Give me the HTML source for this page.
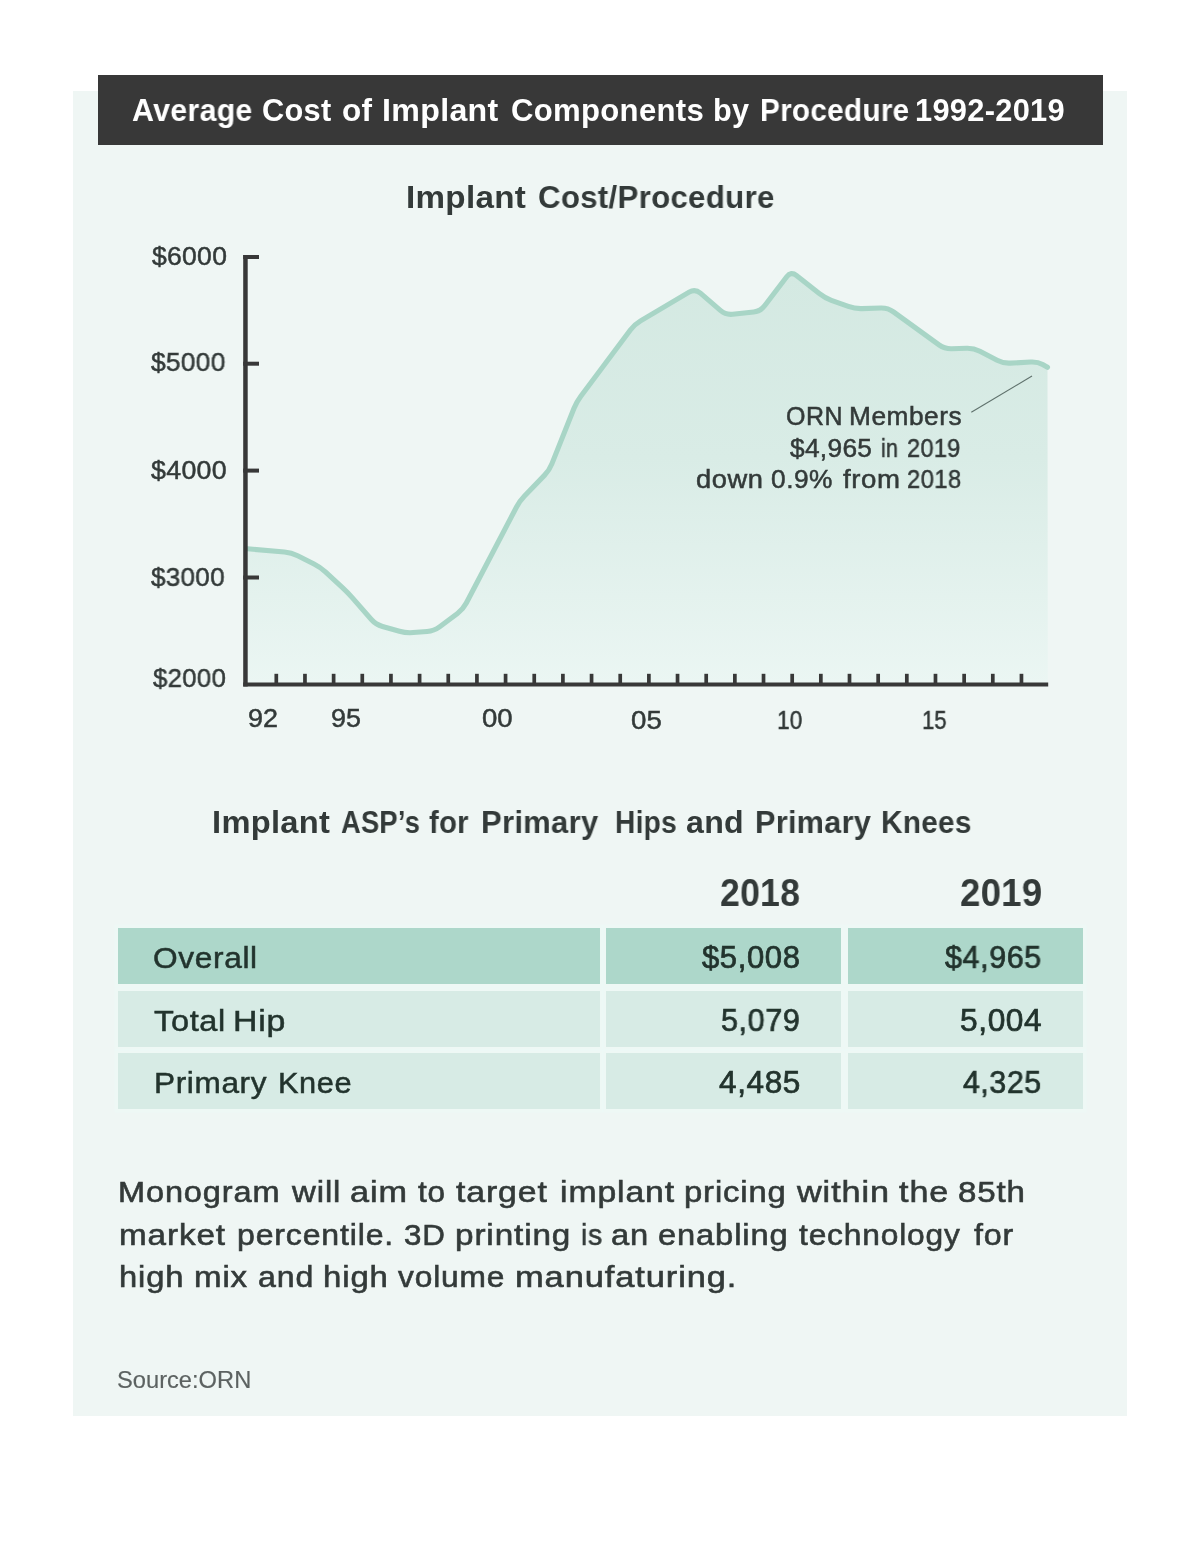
<!DOCTYPE html>
<html lang="en"><head><meta charset="utf-8"><title>Average Cost of Implant Components by Procedure 1992-2019</title>
<style>
html,body{margin:0;padding:0;background:#fff;}
body{width:1200px;height:1553px;position:relative;overflow:hidden;font-family:"Liberation Sans",sans-serif;}
.bg{position:absolute;}
.t{position:absolute;white-space:nowrap;line-height:1;transform-origin:0 0;display:block;will-change:transform;}
.panel{left:73.3px;top:91.4px;width:1053.7px;height:1324.2px;background:#eff6f4;}
.bar{left:98px;top:74.8px;width:1004.8px;height:70.5px;background:#383838;}
.row{position:absolute;height:56px;box-shadow:0 0 0 3.5px rgba(236,250,245,0.55);}
.rd{background:#add7ca;} .rl{background:#d7ebe5;}
</style></head><body>
<div class="bg panel"></div>
<div class="bg bar"></div>
<svg class="bg" style="left:0;top:0" width="1200" height="800" viewBox="0 0 1200 800">
<defs><linearGradient id="g" x1="0" y1="273" x2="0" y2="684" gradientUnits="userSpaceOnUse"><stop offset="0" stop-color="#d4e9e2"/><stop offset="0.45" stop-color="#d9ece6"/><stop offset="1" stop-color="#ebf6f3"/></linearGradient></defs>
<path d="M247.50,548.75 L284.45,552.03 Q291.42,552.65 297.68,555.79 L314.01,563.97 Q320.27,567.10 325.41,571.85 L342.47,587.64 Q347.61,592.39 352.22,597.66 L371.14,619.28 Q375.75,624.55 382.49,626.45 L399.45,631.24 Q406.19,633.15 413.16,632.58 L427.11,631.45 Q434.09,630.88 439.70,626.70 L457.47,613.44 Q463.08,609.25 466.32,603.05 L516.40,507.20 Q519.64,500.99 524.50,495.96 L544.40,475.36 Q549.26,470.33 551.86,463.83 L574.02,408.28 Q576.62,401.78 580.82,396.18 L630.34,330.08 Q634.54,324.47 640.56,320.91 L689.09,292.15 Q695.12,288.58 700.41,293.16 L720.37,310.41 Q725.66,314.99 732.62,314.22 L753.64,311.91 Q760.60,311.14 764.83,305.56 L786.73,276.73 Q790.96,271.16 796.45,275.50 L819.29,293.58 Q824.78,297.92 831.36,300.30 L848.31,306.43 Q854.90,308.81 861.89,308.60 L880.81,308.01 Q887.80,307.79 893.48,311.89 L939.02,344.84 Q944.70,348.94 951.69,348.74 L966.67,348.31 Q973.66,348.11 979.88,351.34 L997.12,360.29 Q1003.34,363.51 1010.33,363.13 L1030.73,362.03 Q1037.72,361.66 1042.61,364.45 L1047.50,367.25 L1047.8,684 L247.5,684 Z" fill="url(#g)"/>
<path d="M247.50,548.75 L284.45,552.03 Q291.42,552.65 297.68,555.79 L314.01,563.97 Q320.27,567.10 325.41,571.85 L342.47,587.64 Q347.61,592.39 352.22,597.66 L371.14,619.28 Q375.75,624.55 382.49,626.45 L399.45,631.24 Q406.19,633.15 413.16,632.58 L427.11,631.45 Q434.09,630.88 439.70,626.70 L457.47,613.44 Q463.08,609.25 466.32,603.05 L516.40,507.20 Q519.64,500.99 524.50,495.96 L544.40,475.36 Q549.26,470.33 551.86,463.83 L574.02,408.28 Q576.62,401.78 580.82,396.18 L630.34,330.08 Q634.54,324.47 640.56,320.91 L689.09,292.15 Q695.12,288.58 700.41,293.16 L720.37,310.41 Q725.66,314.99 732.62,314.22 L753.64,311.91 Q760.60,311.14 764.83,305.56 L786.73,276.73 Q790.96,271.16 796.45,275.50 L819.29,293.58 Q824.78,297.92 831.36,300.30 L848.31,306.43 Q854.90,308.81 861.89,308.60 L880.81,308.01 Q887.80,307.79 893.48,311.89 L939.02,344.84 Q944.70,348.94 951.69,348.74 L966.67,348.31 Q973.66,348.11 979.88,351.34 L997.12,360.29 Q1003.34,363.51 1010.33,363.13 L1030.73,362.03 Q1037.72,361.66 1042.61,364.45 L1047.50,367.25" fill="none" stroke="#a8d5c6" stroke-width="5.1" stroke-linejoin="round" stroke-linecap="round"/>
<line x1="971.3" y1="412.3" x2="1032" y2="376" stroke="#5f716c" stroke-width="1.1"/>
<rect x="243.2" y="255" width="4.5" height="431.5" fill="#383838"/>
<rect x="243.2" y="682.5" width="805" height="4" fill="#383838"/>
<rect x="243.2" y="255" width="15.8" height="4" fill="#383838"/>
<rect x="243.2" y="361.7" width="15.8" height="4" fill="#383838"/>
<rect x="243.2" y="468.6" width="15.8" height="4" fill="#383838"/>
<rect x="243.2" y="575.5" width="15.8" height="4" fill="#383838"/>
<rect x="274.45" y="673.8" width="3.7" height="10" fill="#383838"/>
<rect x="303.11" y="673.8" width="3.7" height="10" fill="#383838"/>
<rect x="331.77" y="673.8" width="3.7" height="10" fill="#383838"/>
<rect x="360.43" y="673.8" width="3.7" height="10" fill="#383838"/>
<rect x="389.09" y="673.8" width="3.7" height="10" fill="#383838"/>
<rect x="417.75" y="673.8" width="3.7" height="10" fill="#383838"/>
<rect x="446.41" y="673.8" width="3.7" height="10" fill="#383838"/>
<rect x="475.07" y="673.8" width="3.7" height="10" fill="#383838"/>
<rect x="503.73" y="673.8" width="3.7" height="10" fill="#383838"/>
<rect x="532.39" y="673.8" width="3.7" height="10" fill="#383838"/>
<rect x="561.05" y="673.8" width="3.7" height="10" fill="#383838"/>
<rect x="589.71" y="673.8" width="3.7" height="10" fill="#383838"/>
<rect x="618.37" y="673.8" width="3.7" height="10" fill="#383838"/>
<rect x="647.03" y="673.8" width="3.7" height="10" fill="#383838"/>
<rect x="675.69" y="673.8" width="3.7" height="10" fill="#383838"/>
<rect x="704.35" y="673.8" width="3.7" height="10" fill="#383838"/>
<rect x="733.01" y="673.8" width="3.7" height="10" fill="#383838"/>
<rect x="761.67" y="673.8" width="3.7" height="10" fill="#383838"/>
<rect x="790.33" y="673.8" width="3.7" height="10" fill="#383838"/>
<rect x="818.99" y="673.8" width="3.7" height="10" fill="#383838"/>
<rect x="847.65" y="673.8" width="3.7" height="10" fill="#383838"/>
<rect x="876.31" y="673.8" width="3.7" height="10" fill="#383838"/>
<rect x="904.97" y="673.8" width="3.7" height="10" fill="#383838"/>
<rect x="933.63" y="673.8" width="3.7" height="10" fill="#383838"/>
<rect x="962.29" y="673.8" width="3.7" height="10" fill="#383838"/>
<rect x="990.95" y="673.8" width="3.7" height="10" fill="#383838"/>
<rect x="1019.61" y="673.8" width="3.7" height="10" fill="#383838"/>
</svg>
<div class="row rd" style="left:117.5px;top:927.5px;width:482.5px"></div>
<div class="row rd" style="left:606.3px;top:927.5px;width:235.0px"></div>
<div class="row rd" style="left:847.7px;top:927.5px;width:235.3px"></div>
<div class="row rl" style="left:117.5px;top:990.6px;width:482.5px"></div>
<div class="row rl" style="left:606.3px;top:990.6px;width:235.0px"></div>
<div class="row rl" style="left:847.7px;top:990.6px;width:235.3px"></div>
<div class="row rl" style="left:117.5px;top:1053.4px;width:482.5px"></div>
<div class="row rl" style="left:606.3px;top:1053.4px;width:235.0px"></div>
<div class="row rl" style="left:847.7px;top:1053.4px;width:235.3px"></div>
<span class="t" id="title0" style="left:131.83px;top:94.78px;font-size:30.5px;font-weight:700;color:#ffffff;letter-spacing:0.3px;transform:scaleX(0.9941);">Average</span>
<span class="t" id="title1" style="left:261.79px;top:94.78px;font-size:30.5px;font-weight:700;color:#ffffff;letter-spacing:0.3px;transform:scaleX(1.0084);">Cost</span>
<span class="t" id="title2" style="left:342.00px;top:94.78px;font-size:30.5px;font-weight:700;color:#ffffff;letter-spacing:0.3px;transform:scaleX(1.0325);">of</span>
<span class="t" id="title3" style="left:381.77px;top:94.78px;font-size:30.5px;font-weight:700;color:#ffffff;letter-spacing:0.3px;transform:scaleX(1.0546);">Implant</span>
<span class="t" id="title4" style="left:510.58px;top:94.78px;font-size:30.5px;font-weight:700;color:#ffffff;letter-spacing:0.3px;transform:scaleX(1.0195);">Components</span>
<span class="t" id="title5" style="left:712.56px;top:94.78px;font-size:30.5px;font-weight:700;color:#ffffff;letter-spacing:0.3px;transform:scaleX(1.0045);">by</span>
<span class="t" id="title6" style="left:759.62px;top:94.78px;font-size:30.5px;font-weight:700;color:#ffffff;letter-spacing:0.3px;transform:scaleX(0.9731);">Procedure</span>
<span class="t" id="title7" style="left:915.30px;top:94.78px;font-size:30.5px;font-weight:700;color:#ffffff;letter-spacing:0.3px;transform:scaleX(1.0093);">1992-2019</span>
<span class="t" id="sub0" style="left:406.36px;top:181.31px;font-size:32px;font-weight:700;color:#333a39;letter-spacing:0.3px;transform:scaleX(1.0370);">Implant</span>
<span class="t" id="sub1" style="left:537.70px;top:181.31px;font-size:32px;font-weight:700;color:#333a39;letter-spacing:0.3px;transform:scaleX(0.9756);">Cost/Procedure</span>
<span class="t" id="y60" style="left:151.52px;top:242.80px;font-size:26.5px;font-weight:400;color:#333a39;letter-spacing:0.3px;-webkit-text-stroke:0.5px #333a39;">$6000</span>
<span class="t" id="y50" style="left:151.32px;top:348.80px;font-size:26.5px;font-weight:400;color:#333a39;letter-spacing:0.3px;-webkit-text-stroke:0.5px #333a39;transform:scaleX(0.9921);">$5000</span>
<span class="t" id="y40" style="left:151.31px;top:457.02px;font-size:26.5px;font-weight:400;color:#333a39;letter-spacing:0.3px;-webkit-text-stroke:0.5px #333a39;transform:scaleX(1.0103);">$4000</span>
<span class="t" id="y30" style="left:151.32px;top:564.40px;font-size:26.5px;font-weight:400;color:#333a39;letter-spacing:0.3px;-webkit-text-stroke:0.5px #333a39;transform:scaleX(0.9824);">$3000</span>
<span class="t" id="y20" style="left:153.12px;top:664.60px;font-size:26.5px;font-weight:400;color:#333a39;letter-spacing:0.3px;-webkit-text-stroke:0.5px #333a39;transform:scaleX(0.9727);">$2000</span>
<span class="t" id="xl0" style="left:248.19px;top:704.61px;font-size:26.5px;font-weight:400;color:#333a39;-webkit-text-stroke:0.5px #333a39;transform:scaleX(1.0154);">92</span>
<span class="t" id="xl1" style="left:330.97px;top:704.61px;font-size:26.5px;font-weight:400;color:#333a39;-webkit-text-stroke:0.5px #333a39;transform:scaleX(1.0156);">95</span>
<span class="t" id="xl2" style="left:482.29px;top:704.59px;font-size:26.5px;font-weight:400;color:#333a39;-webkit-text-stroke:0.5px #333a39;transform:scaleX(1.0410);">00</span>
<span class="t" id="xm0" style="left:630.89px;top:706.78px;font-size:26.5px;font-weight:400;color:#333a39;-webkit-text-stroke:0.5px #333a39;transform:scaleX(1.0435);">05</span>
<span class="t" id="xm1" style="left:777.32px;top:706.80px;font-size:26.5px;font-weight:400;color:#333a39;-webkit-text-stroke:0.5px #333a39;transform:scaleX(0.8587);">10</span>
<span class="t" id="xm2" style="left:921.92px;top:706.80px;font-size:26.5px;font-weight:400;color:#333a39;-webkit-text-stroke:0.5px #333a39;transform:scaleX(0.8336);">15</span>
<span class="t" id="a10" style="left:785.81px;top:403.90px;font-size:25px;font-weight:400;color:#333a39;letter-spacing:0.5px;-webkit-text-stroke:0.5px #333a39;transform:scaleX(0.9914);">ORN</span>
<span class="t" id="a11" style="left:848.62px;top:403.87px;font-size:25px;font-weight:400;color:#333a39;letter-spacing:0.5px;-webkit-text-stroke:0.5px #333a39;transform:scaleX(1.0510);">Members</span>
<span class="t" id="a20" style="left:789.75px;top:435.88px;font-size:25px;font-weight:400;color:#333a39;letter-spacing:0.3px;-webkit-text-stroke:0.5px #333a39;transform:scaleX(1.0514);">$4,965</span>
<span class="t" id="a21" style="left:880.53px;top:435.91px;font-size:25px;font-weight:400;color:#333a39;letter-spacing:0.3px;-webkit-text-stroke:0.5px #333a39;transform:scaleX(0.8629);">in</span>
<span class="t" id="a22" style="left:906.57px;top:435.91px;font-size:25px;font-weight:400;color:#333a39;letter-spacing:0.3px;-webkit-text-stroke:0.5px #333a39;transform:scaleX(0.9431);">2019</span>
<span class="t" id="a30" style="left:696.07px;top:467.08px;font-size:25px;font-weight:400;color:#333a39;letter-spacing:0.5px;-webkit-text-stroke:0.5px #333a39;transform:scaleX(1.0906);">down</span>
<span class="t" id="a31" style="left:771.14px;top:467.08px;font-size:25px;font-weight:400;color:#333a39;letter-spacing:0.5px;-webkit-text-stroke:0.5px #333a39;transform:scaleX(1.0514);">0.9%</span>
<span class="t" id="a32" style="left:842.50px;top:467.06px;font-size:25px;font-weight:400;color:#333a39;letter-spacing:0.5px;-webkit-text-stroke:0.5px #333a39;transform:scaleX(1.1045);">from</span>
<span class="t" id="a33" style="left:906.57px;top:467.10px;font-size:25px;font-weight:400;color:#333a39;letter-spacing:0.5px;-webkit-text-stroke:0.5px #333a39;transform:scaleX(0.9478);">2018</span>
<span class="t" id="h20" style="left:211.81px;top:805.81px;font-size:32px;font-weight:700;color:#333a39;letter-spacing:0.3px;transform:scaleX(1.0204);">Implant</span>
<span class="t" id="h21" style="left:340.84px;top:805.81px;font-size:32px;font-weight:700;color:#333a39;letter-spacing:0.3px;transform:scaleX(0.8523);">ASP’s</span>
<span class="t" id="h22" style="left:429.19px;top:805.81px;font-size:32px;font-weight:700;color:#333a39;letter-spacing:0.3px;transform:scaleX(0.9142);">for</span>
<span class="t" id="h23" style="left:480.73px;top:805.81px;font-size:32px;font-weight:700;color:#333a39;letter-spacing:0.3px;transform:scaleX(0.9682);">Primary</span>
<span class="t" id="h24" style="left:614.95px;top:805.81px;font-size:32px;font-weight:700;color:#333a39;letter-spacing:0.3px;transform:scaleX(0.8782);">Hips</span>
<span class="t" id="h25" style="left:686.21px;top:805.81px;font-size:32px;font-weight:700;color:#333a39;letter-spacing:0.3px;transform:scaleX(1.0034);">and</span>
<span class="t" id="h26" style="left:754.54px;top:805.81px;font-size:32px;font-weight:700;color:#333a39;letter-spacing:0.3px;transform:scaleX(0.9571);">Primary</span>
<span class="t" id="h27" style="left:881.14px;top:805.81px;font-size:32px;font-weight:700;color:#333a39;letter-spacing:0.3px;transform:scaleX(0.9297);">Knees</span>
<span class="t" id="c180" style="left:719.72px;top:873.83px;font-size:38px;font-weight:700;color:#333a39;letter-spacing:0.3px;transform:scaleX(0.9364);">2018</span>
<span class="t" id="c190" style="left:959.70px;top:873.83px;font-size:38px;font-weight:700;color:#333a39;letter-spacing:0.3px;transform:scaleX(0.9622);">2019</span>
<span class="t" id="r1a0" style="left:153.02px;top:942.81px;font-size:29.7px;font-weight:400;color:#22332d;letter-spacing:0.6px;-webkit-text-stroke:0.5px #22332d;transform:scaleX(1.0667);">Overall</span>
<span class="t" id="r2a0" style="left:154.45px;top:1005.91px;font-size:29.7px;font-weight:400;color:#22332d;letter-spacing:0.6px;-webkit-text-stroke:0.5px #22332d;transform:scaleX(1.0952);">Total</span>
<span class="t" id="r2a1" style="left:232.98px;top:1005.91px;font-size:29.7px;font-weight:400;color:#22332d;letter-spacing:0.6px;-webkit-text-stroke:0.5px #22332d;transform:scaleX(1.1419);">Hip</span>
<span class="t" id="r3a0" style="left:153.60px;top:1067.71px;font-size:29.7px;font-weight:400;color:#22332d;letter-spacing:0.6px;-webkit-text-stroke:0.5px #22332d;transform:scaleX(1.0631);">Primary</span>
<span class="t" id="r3a1" style="left:277.85px;top:1067.71px;font-size:29.7px;font-weight:400;color:#22332d;letter-spacing:0.6px;-webkit-text-stroke:0.5px #22332d;transform:scaleX(1.0347);">Knee</span>
<span class="t" id="r1b0" style="left:702.01px;top:942.21px;font-size:31px;font-weight:400;color:#22332d;letter-spacing:0.6px;-webkit-text-stroke:0.7px #22332d;transform:scaleX(1.0012);">$5,008</span>
<span class="t" id="r2b0" style="left:721.02px;top:1005.01px;font-size:31px;font-weight:400;color:#22332d;letter-spacing:0.6px;-webkit-text-stroke:0.7px #22332d;transform:scaleX(0.9853);">5,079</span>
<span class="t" id="r3b0" style="left:718.88px;top:1067.31px;font-size:31px;font-weight:400;color:#22332d;letter-spacing:0.6px;-webkit-text-stroke:0.7px #22332d;transform:scaleX(1.0175);">4,485</span>
<span class="t" id="r1c0" style="left:945.00px;top:942.21px;font-size:31px;font-weight:400;color:#22332d;letter-spacing:0.6px;-webkit-text-stroke:0.7px #22332d;transform:scaleX(0.9834);">$4,965</span>
<span class="t" id="r2c0" style="left:960.01px;top:1005.01px;font-size:31px;font-weight:400;color:#22332d;letter-spacing:0.6px;-webkit-text-stroke:0.7px #22332d;transform:scaleX(1.0213);">5,004</span>
<span class="t" id="r3c0" style="left:962.88px;top:1067.31px;font-size:31px;font-weight:400;color:#22332d;letter-spacing:0.6px;-webkit-text-stroke:0.7px #22332d;transform:scaleX(0.9763);">4,325</span>
<span class="t" id="p10" style="left:118.30px;top:1176.66px;font-size:30px;font-weight:400;color:#333a39;letter-spacing:0.8px;-webkit-text-stroke:0.6px #333a39;transform:scaleX(1.0841);">Monogram</span>
<span class="t" id="p11" style="left:291.91px;top:1176.66px;font-size:30px;font-weight:400;color:#333a39;letter-spacing:0.8px;-webkit-text-stroke:0.6px #333a39;transform:scaleX(1.0989);">will</span>
<span class="t" id="p12" style="left:349.69px;top:1176.67px;font-size:30px;font-weight:400;color:#333a39;letter-spacing:0.8px;-webkit-text-stroke:0.6px #333a39;transform:scaleX(1.1408);">aim</span>
<span class="t" id="p13" style="left:417.53px;top:1176.67px;font-size:30px;font-weight:400;color:#333a39;letter-spacing:0.8px;-webkit-text-stroke:0.6px #333a39;transform:scaleX(1.0488);">to</span>
<span class="t" id="p14" style="left:456.13px;top:1176.65px;font-size:30px;font-weight:400;color:#333a39;letter-spacing:0.8px;-webkit-text-stroke:0.6px #333a39;transform:scaleX(1.1249);">target</span>
<span class="t" id="p15" style="left:560.29px;top:1176.66px;font-size:30px;font-weight:400;color:#333a39;letter-spacing:0.8px;-webkit-text-stroke:0.6px #333a39;transform:scaleX(1.1239);">implant</span>
<span class="t" id="p16" style="left:684.35px;top:1176.66px;font-size:30px;font-weight:400;color:#333a39;letter-spacing:0.8px;-webkit-text-stroke:0.6px #333a39;transform:scaleX(1.0927);">pricing</span>
<span class="t" id="p17" style="left:796.91px;top:1176.65px;font-size:30px;font-weight:400;color:#333a39;letter-spacing:0.8px;-webkit-text-stroke:0.6px #333a39;transform:scaleX(1.1402);">within</span>
<span class="t" id="p18" style="left:899.33px;top:1176.65px;font-size:30px;font-weight:400;color:#333a39;letter-spacing:0.8px;-webkit-text-stroke:0.6px #333a39;transform:scaleX(1.1365);">the</span>
<span class="t" id="p19" style="left:958.03px;top:1176.66px;font-size:30px;font-weight:400;color:#333a39;letter-spacing:0.8px;-webkit-text-stroke:0.6px #333a39;transform:scaleX(1.1012);">85th</span>
<span class="t" id="p20" style="left:119.30px;top:1219.96px;font-size:30px;font-weight:400;color:#333a39;letter-spacing:0.8px;-webkit-text-stroke:0.6px #333a39;transform:scaleX(1.1076);">market</span>
<span class="t" id="p21" style="left:236.84px;top:1219.96px;font-size:30px;font-weight:400;color:#333a39;letter-spacing:0.8px;-webkit-text-stroke:0.6px #333a39;transform:scaleX(1.0672);">percentile.</span>
<span class="t" id="p22" style="left:404.04px;top:1219.96px;font-size:30px;font-weight:400;color:#333a39;letter-spacing:0.8px;-webkit-text-stroke:0.6px #333a39;transform:scaleX(1.0430);">3D</span>
<span class="t" id="p23" style="left:455.28px;top:1219.96px;font-size:30px;font-weight:400;color:#333a39;letter-spacing:0.8px;-webkit-text-stroke:0.6px #333a39;transform:scaleX(1.1093);">printing</span>
<span class="t" id="p24" style="left:581.18px;top:1219.97px;font-size:30px;font-weight:400;color:#333a39;letter-spacing:0.8px;-webkit-text-stroke:0.6px #333a39;transform:scaleX(0.9409);">is</span>
<span class="t" id="p25" style="left:611.15px;top:1219.96px;font-size:30px;font-weight:400;color:#333a39;letter-spacing:0.8px;-webkit-text-stroke:0.6px #333a39;transform:scaleX(1.0908);">an</span>
<span class="t" id="p26" style="left:658.22px;top:1219.96px;font-size:30px;font-weight:400;color:#333a39;letter-spacing:0.8px;-webkit-text-stroke:0.6px #333a39;transform:scaleX(1.0886);">enabling</span>
<span class="t" id="p27" style="left:799.33px;top:1219.97px;font-size:30px;font-weight:400;color:#333a39;letter-spacing:0.8px;-webkit-text-stroke:0.6px #333a39;transform:scaleX(1.0564);">technology</span>
<span class="t" id="p28" style="left:974.31px;top:1219.96px;font-size:30px;font-weight:400;color:#333a39;letter-spacing:0.8px;-webkit-text-stroke:0.6px #333a39;transform:scaleX(1.0738);">for</span>
<span class="t" id="p30" style="left:119.35px;top:1262.26px;font-size:30px;font-weight:400;color:#333a39;letter-spacing:0.8px;-webkit-text-stroke:0.6px #333a39;transform:scaleX(1.0909);">high</span>
<span class="t" id="p31" style="left:194.36px;top:1262.26px;font-size:30px;font-weight:400;color:#333a39;letter-spacing:0.8px;-webkit-text-stroke:0.6px #333a39;transform:scaleX(1.1005);">mix</span>
<span class="t" id="p32" style="left:257.97px;top:1262.26px;font-size:30px;font-weight:400;color:#333a39;letter-spacing:0.8px;-webkit-text-stroke:0.6px #333a39;transform:scaleX(1.0699);">and</span>
<span class="t" id="p33" style="left:323.32px;top:1262.26px;font-size:30px;font-weight:400;color:#333a39;letter-spacing:0.8px;-webkit-text-stroke:0.6px #333a39;transform:scaleX(1.0974);">high</span>
<span class="t" id="p34" style="left:398.26px;top:1262.27px;font-size:30px;font-weight:400;color:#333a39;letter-spacing:0.8px;-webkit-text-stroke:0.6px #333a39;transform:scaleX(1.0557);">volume</span>
<span class="t" id="p35" style="left:515.03px;top:1262.27px;font-size:30px;font-weight:400;color:#333a39;letter-spacing:0.8px;-webkit-text-stroke:0.6px #333a39;transform:scaleX(1.1470);">manufaturing.</span>
<span class="t" id="src0" style="left:116.51px;top:1369.11px;font-size:23.5px;font-weight:400;color:#5c6261;-webkit-text-stroke:0.15px #5c6261;transform:scaleX(1.0078);">Source:ORN</span>
</body></html>
